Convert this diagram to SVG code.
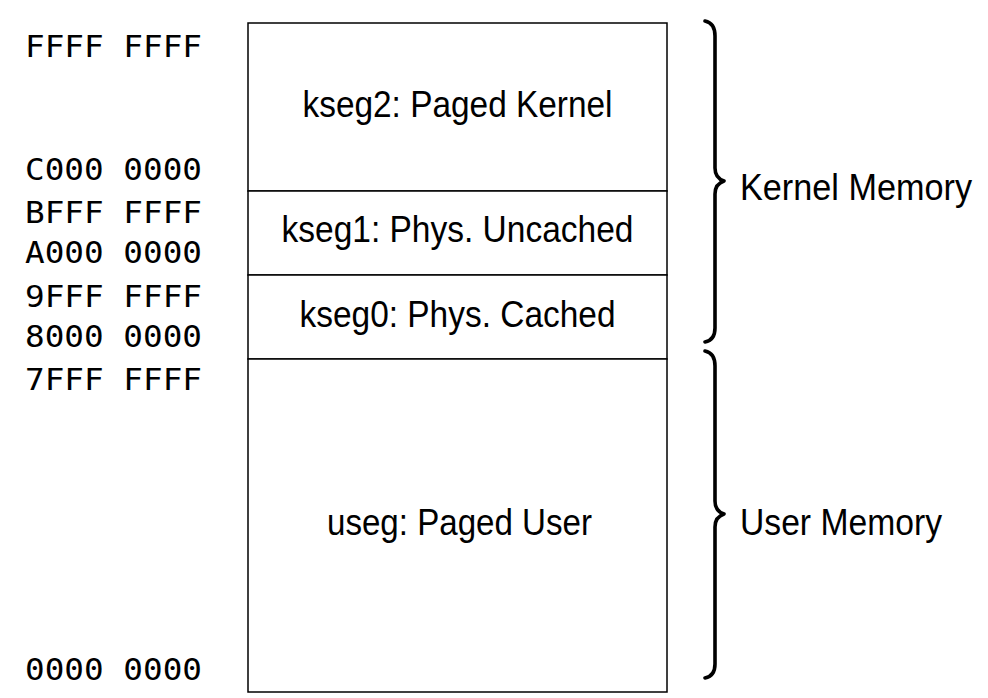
<svg xmlns="http://www.w3.org/2000/svg" width="988" height="698" viewBox="0 0 988 698">
<style>
.addr{font-family:"DejaVu Sans Mono","Liberation Mono",monospace;font-size:30px;fill:#000}
.lbl{font-family:"Liberation Sans","DejaVu Sans",sans-serif;font-size:36px;fill:#000}
.seg{fill:#fff;stroke:#000;stroke-width:1.5}
.brace{fill:none;stroke:#000;stroke-width:3.6;stroke-linecap:round;stroke-linejoin:round}
</style>
<rect width="988" height="698" fill="#fff"/>
<g id="addresses">
<text class="addr" x="25" y="57" textLength="177" lengthAdjust="spacingAndGlyphs">FFFF FFFF</text>
<text class="addr" x="25" y="180" textLength="177" lengthAdjust="spacingAndGlyphs">C000 0000</text>
<text class="addr" x="25" y="223" textLength="177" lengthAdjust="spacingAndGlyphs">BFFF FFFF</text>
<text class="addr" x="25" y="263" textLength="177" lengthAdjust="spacingAndGlyphs">A000 0000</text>
<text class="addr" x="25" y="307" textLength="177" lengthAdjust="spacingAndGlyphs">9FFF FFFF</text>
<text class="addr" x="25" y="347" textLength="177" lengthAdjust="spacingAndGlyphs">8000 0000</text>
<text class="addr" x="25" y="390" textLength="177" lengthAdjust="spacingAndGlyphs">7FFF FFFF</text>
<text class="addr" x="25" y="680" textLength="177" lengthAdjust="spacingAndGlyphs">0000 0000</text>
</g>
<g id="kseg2">
<rect class="seg" x="248" y="23" width="419" height="168"/>
<text class="lbl" x="457.5" y="117" text-anchor="middle" textLength="310" lengthAdjust="spacingAndGlyphs">kseg2:  Paged Kernel</text>
</g>
<g id="kseg1">
<rect class="seg" x="248" y="191" width="419" height="84"/>
<text class="lbl" x="457.5" y="242" text-anchor="middle" textLength="352" lengthAdjust="spacingAndGlyphs">kseg1:  Phys.  Uncached</text>
</g>
<g id="kseg0">
<rect class="seg" x="248" y="275" width="419" height="84"/>
<text class="lbl" x="457.5" y="327" text-anchor="middle" textLength="316" lengthAdjust="spacingAndGlyphs">kseg0:  Phys.  Cached</text>
</g>
<g id="useg">
<rect class="seg" x="248" y="359" width="419" height="333"/>
<text class="lbl" x="459.5" y="535" text-anchor="middle" textLength="265" lengthAdjust="spacingAndGlyphs">useg:  Paged User</text>
</g>
<g id="kernel-memory">
<path class="brace" d="M 705 21 Q 715 23 715 36 L 715 168 Q 715 178 724 181 Q 715 184 715 194 L 715 328 Q 715 340 705 342"/>
<text class="lbl" x="740" y="200" textLength="232" lengthAdjust="spacingAndGlyphs">Kernel Memory</text>
</g>
<g id="user-memory">
<path class="brace" d="M 705 351 Q 715 353 715 366 L 715 501 Q 715 511 724 514 Q 715 517 715 527 L 715 664 Q 715 676 705 678"/>
<text class="lbl" x="740" y="535" textLength="202" lengthAdjust="spacingAndGlyphs">User Memory</text>
</g>
<g id="connectors"/>
</svg>
